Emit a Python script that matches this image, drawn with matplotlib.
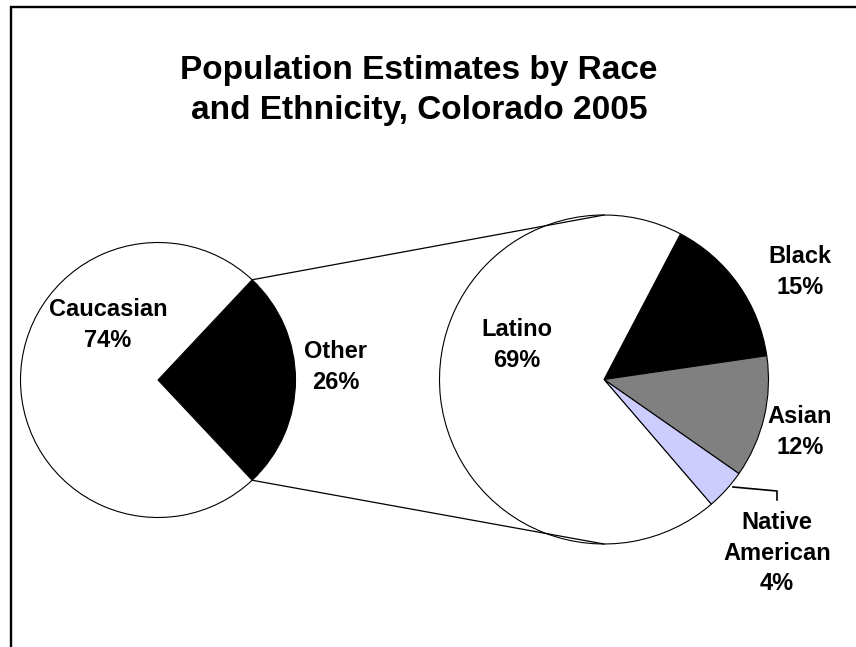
import matplotlib.pyplot as plt
from matplotlib.patches import Rectangle
import numpy as np

plt.rcParams['font.family'] = ['Liberation Sans', 'DejaVu Sans']

# main split
main_labels = ['Other', 'Caucasian']
main_values = [26, 74]
main_colors = ['black', 'white']

# breakdown of "Other"
sub_labels = ['Black', 'Asian', 'Native\nAmerican', 'Latino']
sub_values = [15, 12, 4, 69]
sub_colors = ['black', '#808080', '#CCCCFF', 'white']

title_lines = ['Population Estimates by Race', 'and Ethnicity, Colorado 2005']

W, H = 856, 647
fig = plt.figure(figsize=(W / 100, H / 100), dpi=100)
ax = fig.add_axes([0, 0, 1, 1])

# everything is laid out in pixel units, y pointing up
c1, r1 = (158, H - 380), 137.5
c2, r2 = (604, H - 379.5), 164.5
start1 = 360 * main_values[0] / 100 / 2
start2 = 62.3

wp = dict(edgecolor='black', linewidth=0.8)
ax.pie(main_values, colors=main_colors, center=c1, radius=r1,
       startangle=start1, counterclock=False, wedgeprops=wp)
ax.pie(sub_values, colors=sub_colors, center=c2, radius=r2,
       startangle=start2, counterclock=False, wedgeprops=wp)

# connector lines from the "Other" slice to the top/bottom of the second pie
for ang, sgn in [(start1, 1), (-start1, -1)]:
    a = np.radians(ang)
    x0 = c1[0] + r1 * np.cos(a)
    y0 = c1[1] + r1 * np.sin(a)
    ax.plot([x0, c2[0]], [y0, c2[1] + sgn * r2], color='black', lw=0.9)

ax.set_xlim(0, W)
ax.set_ylim(0, H)
ax.set_aspect('equal')
ax.axis('off')

fs = 17
lab = dict(ha='center', va='center', fontsize=fs, fontweight='bold', linespacing=1.4)

ax.text(108, H - 325, f'{main_labels[1]}\n{main_values[1]}%', **lab)
ax.text(336, H - 367, f'{main_labels[0]}\n{main_values[0]}%', **lab)
ax.text(517, H - 345, f'{sub_labels[3]}\n{sub_values[3]}%', **lab)
ax.text(800, H - 272, f'{sub_labels[0]}\n{sub_values[0]}%', **lab)
ax.text(800, H - 432, f'{sub_labels[1]}\n{sub_values[1]}%', **lab)
ax.text(777, H - 553, f'{sub_labels[2]}\n{sub_values[2]}%', **lab)

# leader line for the small slice
ax.plot([733, 777, 777], [H - 487, H - 491, H - 500], color='black', lw=1.2)

for i, line in enumerate(title_lines):
    ax.text(419, H - 79 - 40 * i, line, ha='center', va='baseline',
            fontsize=24, fontweight='bold')

fig.patches.append(Rectangle((11, -20), W + 20, H - 7 + 20, transform=None,
                             fill=False, edgecolor='black', linewidth=1.7))

fig.savefig('out.png', dpi=100)
